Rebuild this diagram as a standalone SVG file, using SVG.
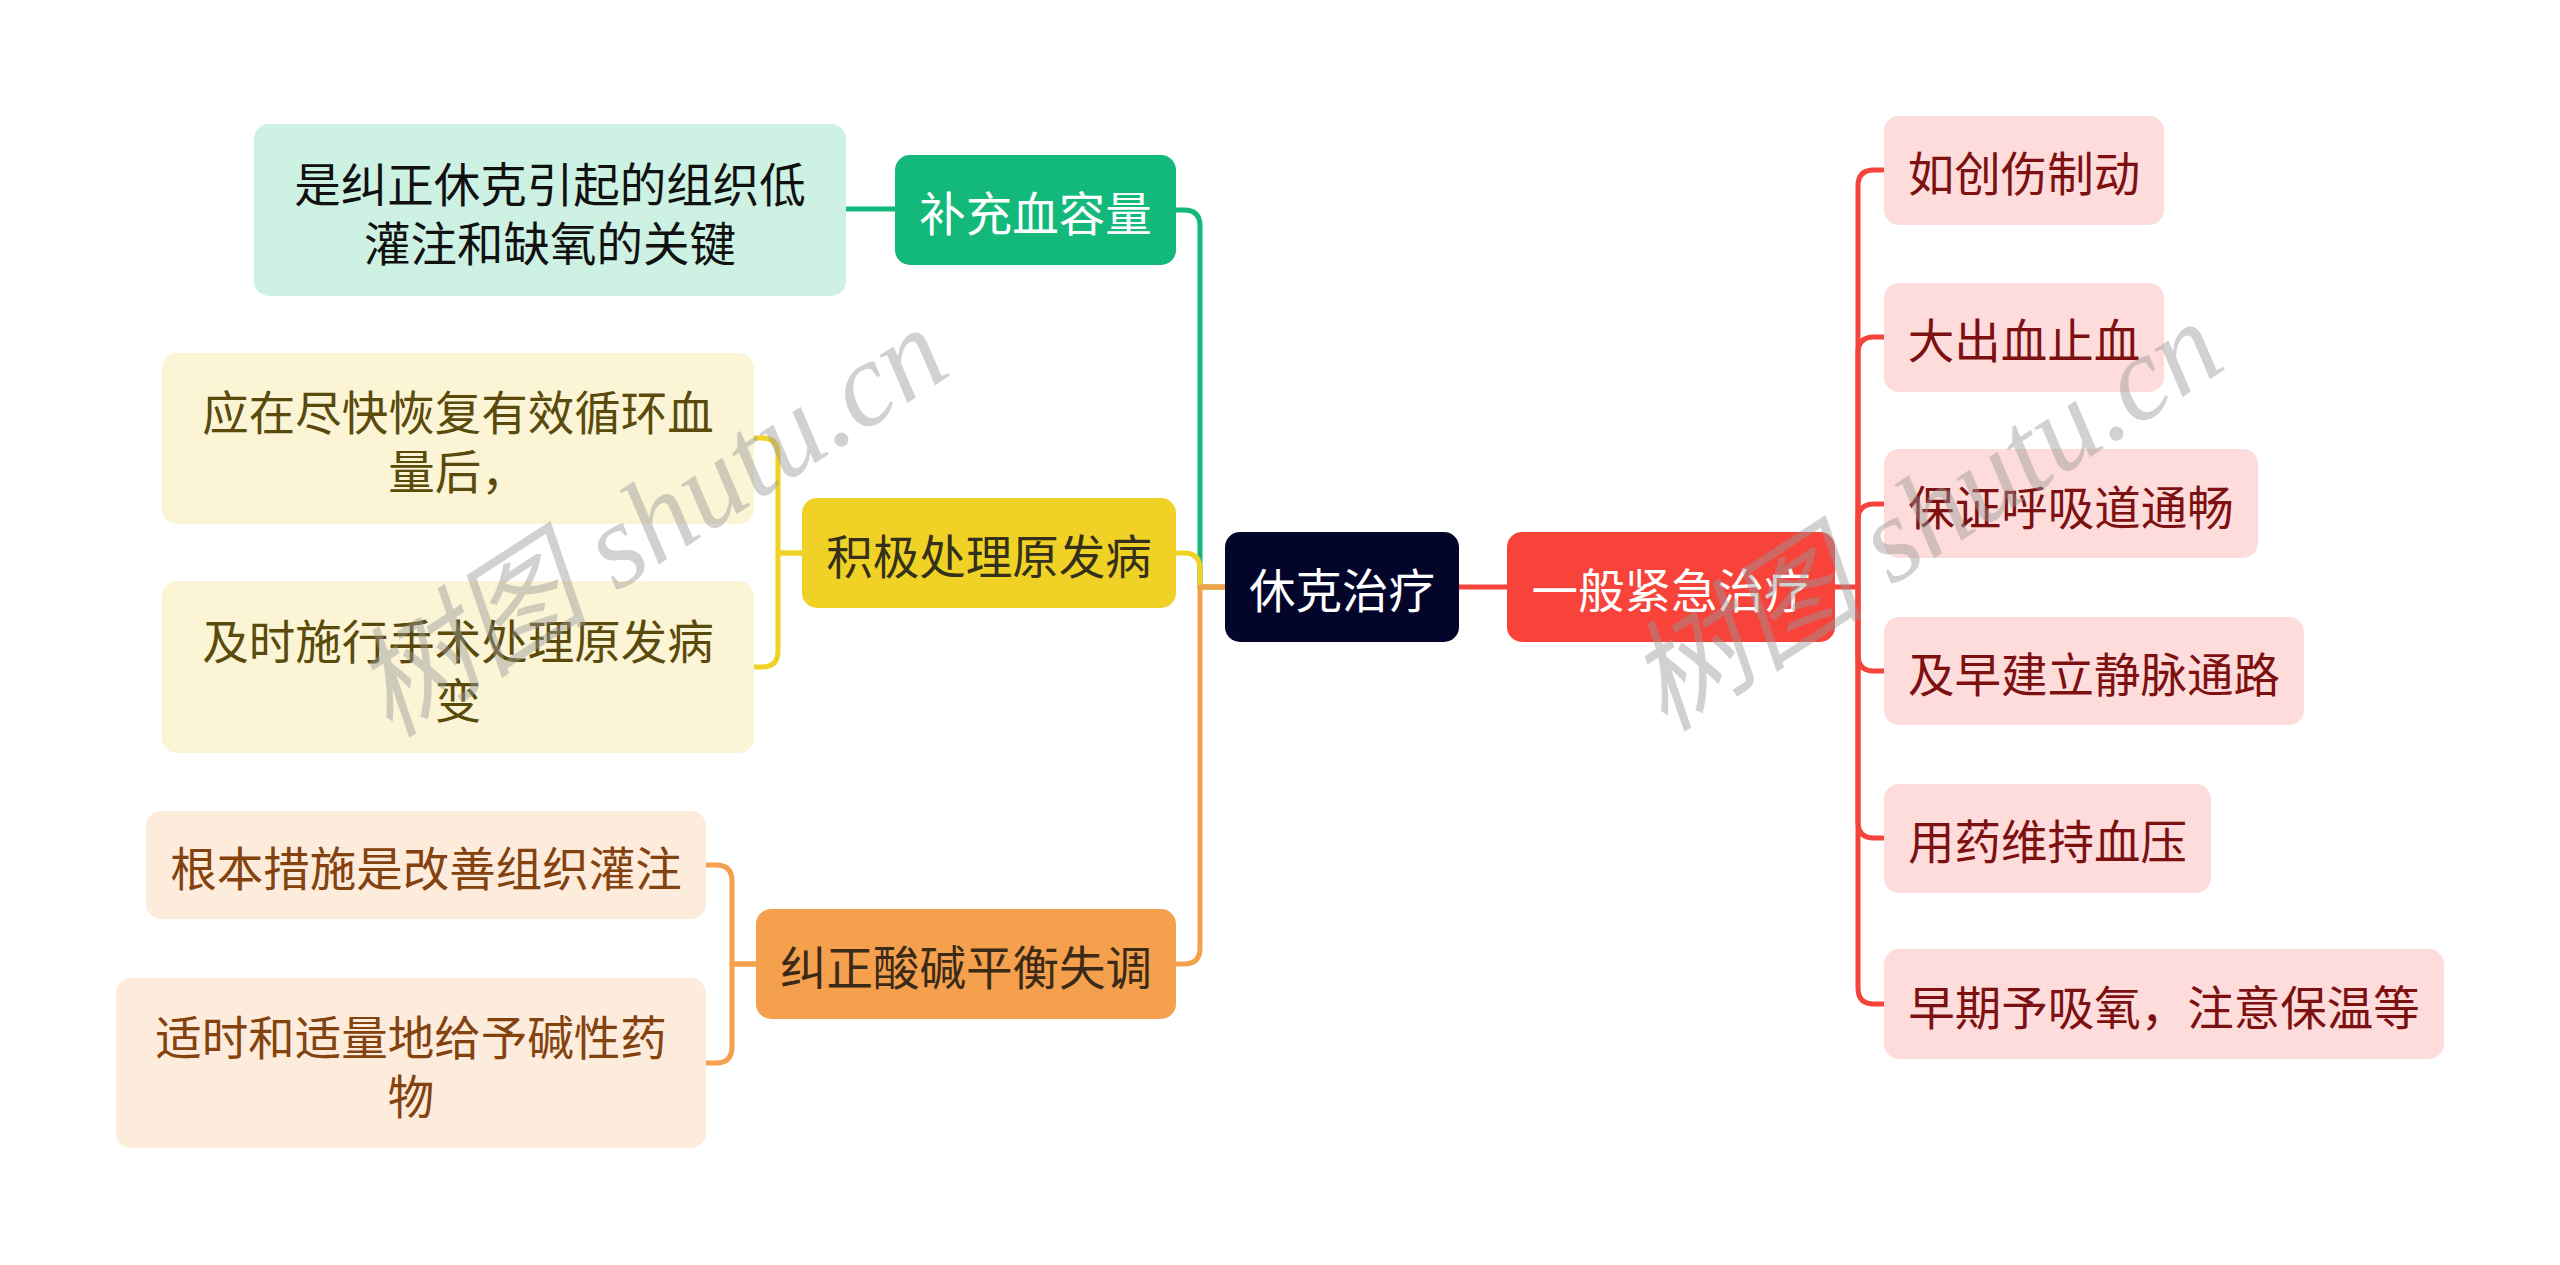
<svg xmlns="http://www.w3.org/2000/svg" width="2560" height="1265" viewBox="0 0 2560 1265">
<style>
text{font-family:"Noto Sans CJK SC","Noto Sans",sans-serif;font-size:46.5px;text-anchor:middle;dominant-baseline:central}
.conn path{fill:none;stroke-width:5;stroke-linecap:round;stroke-linejoin:round}
.wm{font-family:"Liberation Serif","Noto Sans CJK SC",serif;font-style:italic;font-size:120px;fill:#9a9a9a;fill-opacity:0.45;text-anchor:middle}
</style>
<rect width="2560" height="1265" fill="#ffffff"/>
<g class="conn" id="connectors">
<path stroke="#13b87b" d="M1225,587 H1200 V226 Q1200,210 1184,210 H1176"/>
<path stroke="#f0d226" d="M1225,587 H1200 V569 Q1200,553 1184,553 H1176"/>
<path stroke="#f4a04c" d="M1225,587 H1200 V948 Q1200,964 1184,964 H1176"/>
<path stroke="#13b87b" d="M895,209 H846"/>
<path stroke="#f0d226" d="M802,553 H778 V454 Q778,438 762,438 H754"/>
<path stroke="#f0d226" d="M802,553 H778 V651 Q778,667 762,667 H754"/>
<path stroke="#f4a04c" d="M756,964 H732 V881 Q732,865 716,865 H706"/>
<path stroke="#f4a04c" d="M756,964 H732 V1047 Q732,1063 716,1063 H706"/>
<path stroke="#f5443b" d="M1459,587 H1507"/>
<path stroke="#f5443b" d="M1835,587 H1858 V186 Q1858,170 1874,170 H1884"/>
<path stroke="#f5443b" d="M1858,587 V353 Q1858,337 1874,337 H1884"/>
<path stroke="#f5443b" d="M1858,587 V520 Q1858,504 1874,504 H1884"/>
<path stroke="#f5443b" d="M1858,587 V655 Q1858,671 1874,671 H1884"/>
<path stroke="#f5443b" d="M1858,587 V822 Q1858,838 1874,838 H1884"/>
<path stroke="#f5443b" d="M1858,587 V988 Q1858,1004 1874,1004 H1884"/>
</g>
<g id="root">
<rect x="1225" y="532" width="234" height="110" rx="15" fill="#03052a"/>
<text x="1342" y="587" fill="#ffffff">休克治疗</text>
</g>
<g id="n-buchong">
<rect x="895" y="155" width="281" height="110" rx="15" fill="#13b87b"/>
<text x="1035.5" y="210" fill="#ffffff">补充血容量</text>
</g>
<g id="n-buchong-1">
<rect x="254" y="124" width="592" height="172" rx="15" fill="#cdf1e2"/>
<text x="550" y="181" fill="#111111">是纠正休克引起的组织低</text>
<text x="550" y="240" fill="#111111">灌注和缺氧的关键</text>
</g>
<g id="n-jiji">
<rect x="802" y="498" width="374" height="110" rx="15" fill="#f0d226"/>
<text x="989" y="553" fill="#35301a">积极处理原发病</text>
</g>
<g id="n-jiji-1">
<rect x="162" y="353" width="592" height="171" rx="15" fill="#fbf5d6"/>
<text x="458" y="409" fill="#5a4a0c">应在尽快恢复有效循环血</text>
<text x="458" y="468" fill="#5a4a0c">量后，</text>
</g>
<g id="n-jiji-2">
<rect x="162" y="581" width="592" height="172" rx="15" fill="#fbf5d6"/>
<text x="458" y="638" fill="#5a4a0c">及时施行手术处理原发病</text>
<text x="458" y="697" fill="#5a4a0c">变</text>
</g>
<g id="n-jiuzheng">
<rect x="756" y="909" width="420" height="110" rx="15" fill="#f4a04c"/>
<text x="966" y="964" fill="#3b2a17">纠正酸碱平衡失调</text>
</g>
<g id="n-jiuzheng-1">
<rect x="146" y="811" width="560" height="108" rx="15" fill="#fdebdc"/>
<text x="426" y="865" fill="#84420f">根本措施是改善组织灌注</text>
</g>
<g id="n-jiuzheng-2">
<rect x="116" y="978" width="590" height="170" rx="15" fill="#fdebdc"/>
<text x="411" y="1034" fill="#84420f">适时和适量地给予碱性药</text>
<text x="411" y="1093" fill="#84420f">物</text>
</g>
<g id="n-yiban">
<rect x="1507" y="532" width="328" height="110" rx="15" fill="#f7433a"/>
<text x="1671" y="587" fill="#ffffff">一般紧急治疗</text>
</g>
<g id="r1">
<rect x="1884" y="116" width="280" height="109" rx="15" fill="#fddcdb"/>
<text x="2024" y="170" fill="#7d1010">如创伤制动</text>
</g>
<g id="r2">
<rect x="1884" y="283" width="280" height="109" rx="15" fill="#fddcdb"/>
<text x="2024" y="337" fill="#7d1010">大出血止血</text>
</g>
<g id="r3">
<rect x="1884" y="449" width="374" height="109" rx="15" fill="#fddcdb"/>
<text x="2071" y="504" fill="#7d1010">保证呼吸道通畅</text>
</g>
<g id="r4">
<rect x="1884" y="617" width="420" height="108" rx="15" fill="#fddcdb"/>
<text x="2094" y="671" fill="#7d1010">及早建立静脉通路</text>
</g>
<g id="r5">
<rect x="1884" y="784" width="327" height="109" rx="15" fill="#fddcdb"/>
<text x="2047.5" y="838" fill="#7d1010">用药维持血压</text>
</g>
<g id="r6">
<rect x="1884" y="949" width="560" height="110" rx="15" fill="#fddcdb"/>
<text x="2164" y="1004" fill="#7d1010">早期予吸氧，注意保温等</text>
</g>
<g id="watermark">
<text class="wm" transform="translate(650,522) rotate(-33)">树图 shutu.cn</text>
<text class="wm" transform="translate(1925,516) rotate(-33)">树图 shutu.cn</text>
</g>
</svg>
